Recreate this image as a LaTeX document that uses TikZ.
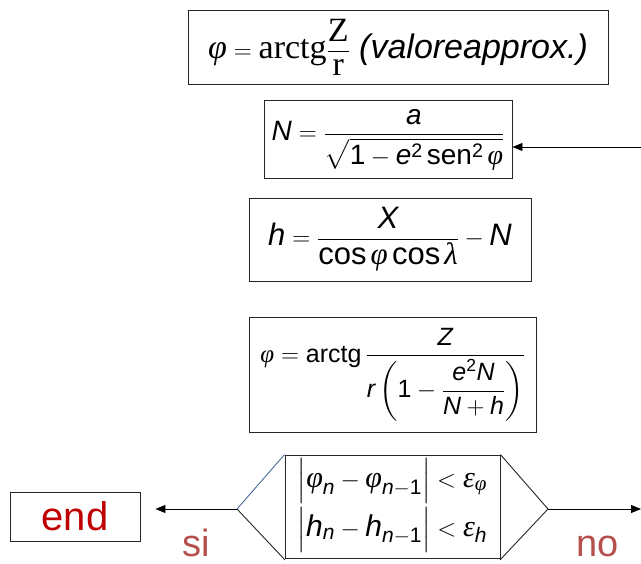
\documentclass[tikz,border=0pt]{standalone}
\usepackage{amsmath}
\usepackage{fontspec}
\setmainfont{Liberation Sans}
\newfontfamily\tnr{Liberation Serif}
\usetikzlibrary{arrows.meta,calc}
\newcommand\mi[1]{\textit{#1}}
\newcommand\gph{\text{\tnr\itshape φ}}
\newcommand\glam{\text{\tnr\itshape λ}}
\newcommand\geps{\text{\tnr\itshape ε}}
\definecolor{endred}{HTML}{C00000}
\definecolor{lblred}{HTML}{B5504D}
\definecolor{edgeblue}{HTML}{4A6A9A}
\tikzset{
  box/.style={draw=black!85,line width=0.9pt,inner sep=0pt},
  ftxt/.style={inner sep=0pt},
  arr/.style={line width=0.9pt,-{Triangle[length=10pt,width=8pt]}},
  lbl/.style={text=lblred,inner sep=0pt,anchor=base,font=\fontsize{38}{42}\selectfont}
}
\begin{document}
\begin{tikzpicture}[x=1pt,y=-1pt]
\useasboundingbox (0,0) rectangle (641,564);
% boxes
\node[box,minimum width=420pt,minimum height=74pt] (b1) at (398,47) {};
\node[ftxt] at (b1) {\fontsize{34}{38}\selectfont $\gph = \text{\tnr arctg}\dfrac{\text{\tnr Z}}{\text{\tnr r}}$ \mi{(valoreapprox.)}};
\node[box,minimum width=248pt,minimum height=78pt] (b2) at (388,139) {};
\node[ftxt] at (b2) {\fontsize{28}{32}\selectfont $\mi{N} = \dfrac{\mi{a}}{\sqrt{\text{1}-\mi{e}^{\text{2}}\,\text{sen}^{\text{2}}\,\smash[b]{\gph}}}$};
\node[box,minimum width=282pt,minimum height=83pt] (b3) at (390,239.5) {};
\node[ftxt] at (b3) {\fontsize{31}{35}\selectfont $\mi{h} = \dfrac{\mi{X}}{\text{cos}\,\gph\,\text{cos}\,\glam} - \mi{N}$};
\node[box,minimum width=287pt,minimum height=115pt] (b4) at (392.5,374.5) {};
\node[ftxt] at (b4) {\fontsize{25}{29}\selectfont $\gph = \text{arctg}\,\dfrac{\mi{Z}}{\mi{r}\left(\text{1}-\dfrac{\mi{e}^{\text{2}}\mi{N}}{\mi{N}+\mi{h}}\right)}$};
% decision
\node[box,minimum width=215pt,minimum height=103pt] (hx) at (392.5,506.5) {};
\node[ftxt] at (392.5,481) {\fontsize{30}{34}\selectfont $\Bigl|\gph_{\mi{n}}-\gph_{\mi{n}-\text{1}}\Bigr| < \geps_{\gph}$};
\node[ftxt] at (392.5,530) {\fontsize{30}{34}\selectfont $\Bigl|\mi{h}_{\mi{n}}-\mi{h}_{\mi{n}-\text{1}}\Bigr| < \geps_{\mi{h}}$};
\coordinate (hl) at (237,509);
\coordinate (hr) at (548,509);
\coordinate (hlb) at (285,560);
\coordinate (hrb) at (500,560);
\draw[edgeblue,line width=0.9pt] (hx.north west) -- (hl);
\draw[black!85,line width=0.9pt] (hl) -- (hlb);
\draw[black!85,line width=0.9pt] (hx.north east) -- (hr) -- (hrb);
% end box
\node[box,minimum width=130pt,minimum height=49pt] (end) at (75,516.5) {};
\node[ftxt,text=endred] at (end) {\fontsize{40}{44}\selectfont end};
% arrows
\draw[arr,shorten >=15pt] (hl) -- (end.east |- hl);
\coordinate (rout) at (641,509);
\draw[arr] (hr) -- (rout);
\coordinate (rin) at (641,147);
\draw[arr] (rin) -- (rin -| b2.east);
% labels
\node[lbl] at (196,557) {si};
\node[lbl] at (598,557) {no};
\end{tikzpicture}
\end{document}
